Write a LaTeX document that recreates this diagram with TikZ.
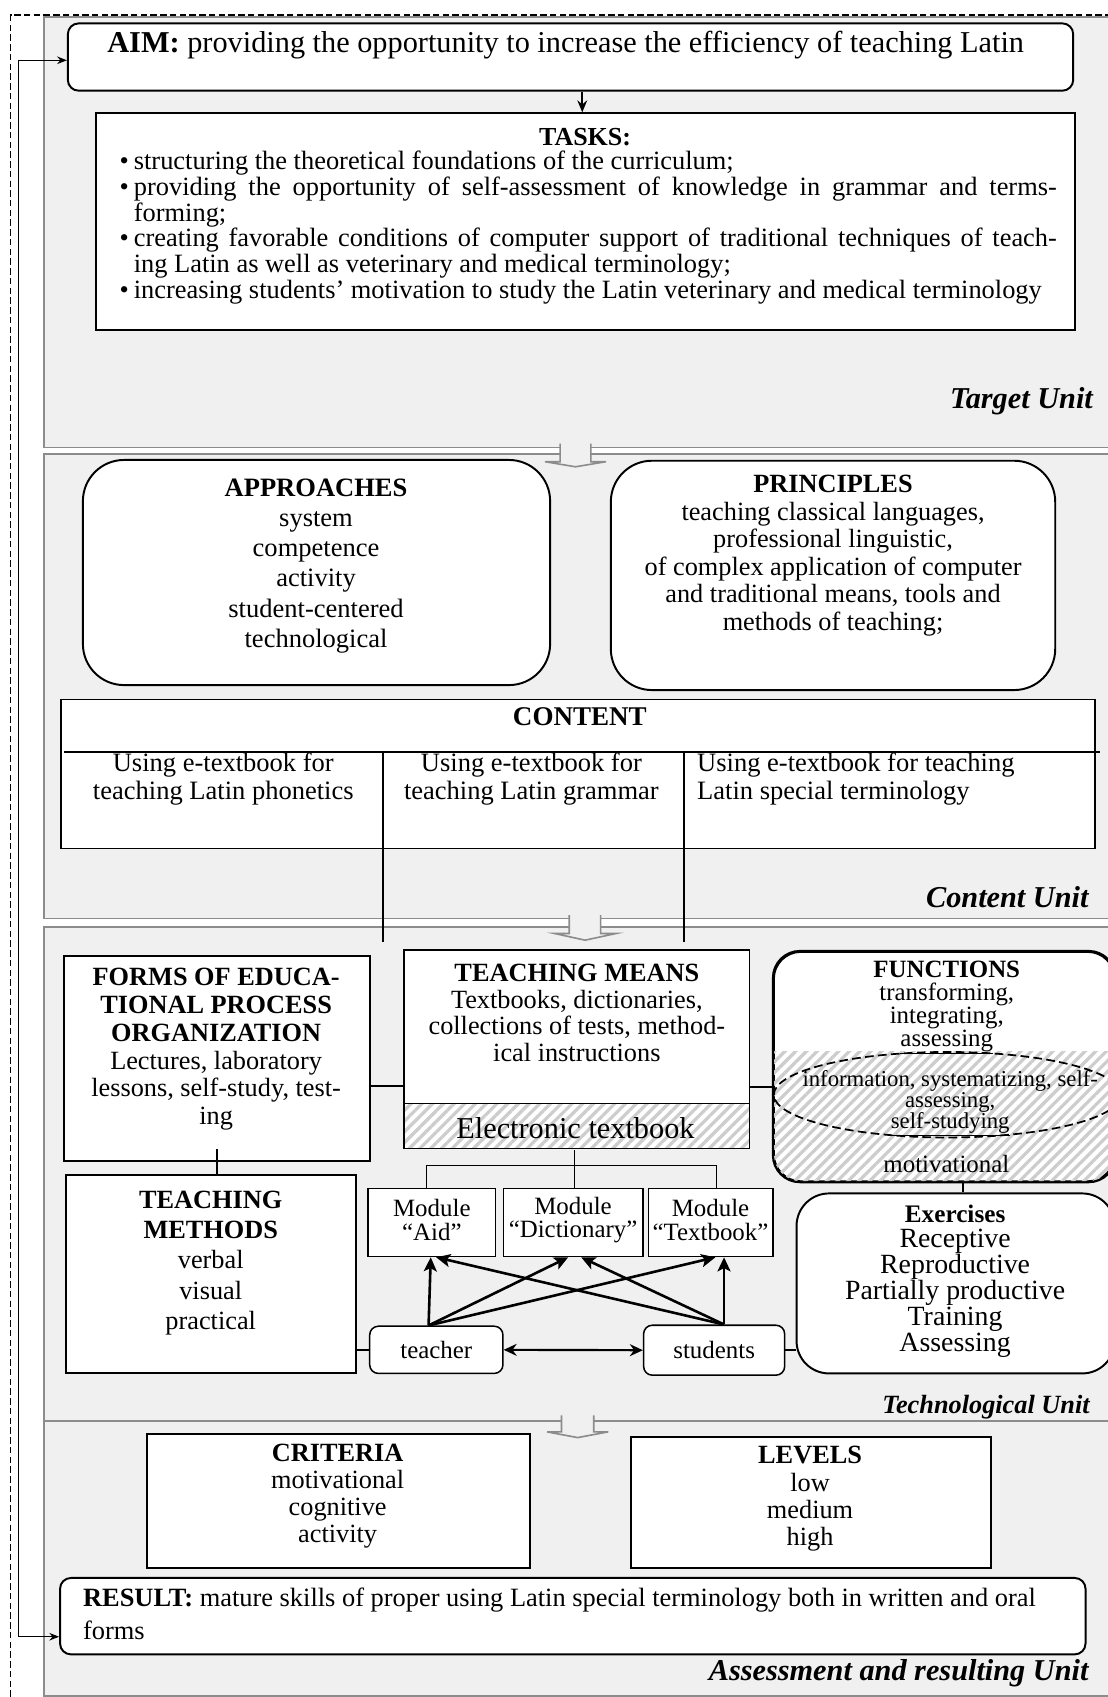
\documentclass[tikz,border=0pt]{standalone}
\usepackage{fontspec}
\setmainfont{Liberation Serif}
\usetikzlibrary{arrows.meta,fit,shapes.geometric,patterns.meta}
\definecolor{panelbg}{HTML}{F0F0F0}
\definecolor{panelln}{HTML}{8C8C8C}
\definecolor{hatchc}{HTML}{CDCDCD}
\newcommand\fz[2]{\fontsize{#1pt}{#2pt}\selectfont}
\newcommand\mkbox[6]{\node[#2,fit={(#3,#4)(#5,#6)},inner sep=0pt] (#1) {};}
\tikzset{
  panel/.style={fill=panelbg, draw=panelln, line width=1.5pt},
  bx/.style={draw=black, fill=white, line width=1.8pt},
  sbx/.style={draw=black, fill=white, line width=1.4pt},
  rbx/.style={bx, rounded corners=#1},
  srbx/.style={sbx, rounded corners=#1},
  hbx/.style={draw=black, line width=1.8pt, preaction={fill=white},
    pattern={Lines[angle=45,distance=7pt,line width=3pt]}, pattern color=hatchc},
  conn/.style={line width=1.8pt},
  tconn/.style={line width=1.4pt},
  marr/.style={line width=2.4pt, -{Stealth[length=13pt,width=12pt,inset=3pt]}},
  tx/.style={align=center, inner sep=0pt, execute at begin node={\lineskiplimit=-50pt}},
  unitlbl/.style={inner sep=0pt, anchor=east, font=\fz{28}{30}\bfseries\itshape},
  barrow/.style={fill=panelbg, draw=panelln, line width=1.5pt, line join=miter},
}
\begin{document}
\begin{tikzpicture}[x=1pt,y=-1pt]
\useasboundingbox (0,0) rectangle (1023,1568);

% ---------- unit panels ----------
\mkbox{pT}{panel}{40.6}{15.5}{1045}{413.4}
\mkbox{pC}{panel}{40.6}{419.5}{1045}{848.7}
\mkbox{pX}{panel}{40.6}{856.4}{1045}{1313}
\mkbox{pA}{panel}{40.6}{1313}{1045}{1567}

% block arrows between the panels
\draw[barrow] (517.5,410) -- (517.5,426.6) -- (503.6,426.6) -- (531.7,431.3) -- (560,426.6) -- (546,426.6) -- (546,410);
\draw[barrow] (526,845.5) -- (526,862.5) -- (512.3,862.5) -- (540.6,868.7) -- (569.3,862.5) -- (555,862.5) -- (555,845.5);
\draw[barrow] (518.8,1307.7) -- (518.8,1323) -- (505.5,1323) -- (533.7,1328.3) -- (562,1323) -- (548.6,1323) -- (548.6,1307.7);

% outer dashed frame
\draw[dash pattern=on 6pt off 3pt, line width=1.4pt] (1045,13.9) -- (9.9,13.9) -- (9.9,1580);

% ---------- Target unit ----------
\mkbox{aim}{rbx=10pt}{62.7}{21.6}{991.6}{83.8}
\node[tx,anchor=west,font=\fz{28}{30}] (aimT) at (99,41.6)
  {\textbf{AIM:} providing the opportunity to increase the efficiency of teaching Latin};
\mkbox{tasks}{bx}{88.4}{104.7}{993.5}{305}
\node[tx,font=\fz{24}{26}\bfseries] (tasksT) at (540.6,126.3) {TASKS:};
\node[inner sep=0pt, text width=866pt, align=justify, font=\fz{24.4}{23.7}] (tasksL) at (543.5,210.3) {%
\tolerance=10000 \parindent=0pt \parskip=0pt
\hangindent=13.2pt\hangafter=1\makebox[13.2pt][l]{\textbullet}structuring the theoretical foundations of the curriculum;\par
\hangindent=13.2pt\hangafter=1\makebox[13.2pt][l]{\textbullet}providing the opportunity of self-assessment of knowledge in grammar and terms-\linebreak forming;\par
\hangindent=13.2pt\hangafter=1\makebox[13.2pt][l]{\textbullet}creating favorable conditions of computer support of traditional techniques of teach-\linebreak ing Latin as well as veterinary and medical terminology;\par
\hangindent=13.2pt\hangafter=1\makebox[13.2pt][l]{\textbullet}increasing students’ motivation to study the Latin veterinary and medical terminology\par}; 
\coordinate (ax) at (538,0);
\draw[conn,-{Stealth[length=11pt,width=9pt]}] (aim.south -| ax) -- (tasks.north -| ax);
\node[unitlbl] (uT) at (1010,370.5) {Target Unit};

% ---------- Content unit ----------
\mkbox{appr}{rbx=38pt}{76.6}{425}{508.3}{633}
\node[tx,font=\fz{24.5}{28}] (apprT) at (292,522.9)
  {\textbf{APPROACHES}\\system\\competence\\activity\\student-centered\\technological};
\mkbox{prin}{rbx=38pt}{564.4}{425.7}{975}{637.6}
\node[tx,font=\fz{24.3}{25.4}] (prinT) at (769.7,513.2)
  {\textbf{PRINCIPLES}\\teaching classical languages,\\professional linguistic,\\of complex application of computer\\and traditional means, tools and\\methods of teaching;};
\mkbox{cont}{bx}{56}{646.3}{1011.5}{784}
\node[tx,font=\fz{25}{27}\bfseries] (contT) at (535.8,662.3) {CONTENT};
\draw[conn] (59,694.6) -- (1016.5,694.6);
\coordinate (d1t) at (353.5,694.6); \coordinate (d1b) at (353.5,870.8);
\coordinate (d2t) at (631.7,694.6); \coordinate (d2b) at (631.7,870.8);
\draw[conn] (d1t) -- (d1b);
\draw[conn] (d2t) -- (d2b);
\node[tx,font=\fz{24.5}{26}] (cell1) at (206.3,720) {Using e-textbook for\\teaching Latin phonetics};
\node[tx,font=\fz{24.5}{26}] (cell2) at (491,720) {Using e-textbook for\\teaching Latin grammar};
\node[tx,align=left,anchor=west,font=\fz{24.5}{26}] (cell3) at (644,720) {Using e-textbook for teaching\\Latin special terminology};
\node[unitlbl] (uC) at (1006,828.6) {Content Unit};

% ---------- Technological unit ----------
\mkbox{forms}{bx}{58.8}{883}{341.6}{1072.6}
\node[tx,font=\fz{24.3}{25.6}] (formsT) at (199.7,969.6)
  {\textbf{FORMS OF EDUCA-}\\\textbf{TIONAL PROCESS}\\\textbf{ORGANIZATION}\\Lectures, laboratory\\lessons, self-study, test-\\ing};
\mkbox{means}{bx}{373.4}{878}{692.5}{1019.6}
\node[tx,font=\fz{24.3}{24.5}] (meansT) at (533,935.7)
  {\textbf{TEACHING MEANS}\\Textbooks, dictionaries,\\collections of tests, method-\\ical instructions};
\mkbox{et}{hbx}{373.4}{1019.6}{692.5}{1061.2}
\node[tx,font=\fz{28}{30}] (etT) at (531.7,1042.7) {Electronic textbook};
\coordinate (c1y) at (0,1003);
\draw[conn] (forms.east |- c1y) -- (means.west |- c1y);

% functions
\mkbox{func}{rbx=25pt}{715}{879.5}{1030}{1091.5}
\begin{scope}
  \clip[rounded corners=25pt] (715,879.5) rectangle (1030,1091.5);
  \fill[pattern={Lines[angle=45,distance=7pt,line width=3pt]}, pattern color=hatchc] (705,972) rectangle (1040,1100);
\end{scope}
\draw[line width=1.8pt, rounded corners=25pt] (func.north west) rectangle (func.south east);
\node[tx,font=\fz{23}{21.2}] (funcT) at (874.8,930.8)
  {\textbf{FUNCTIONS}\\transforming,\\integrating,\\\underline{assessing}};
\node[ellipse, draw, dash pattern=on 8pt off 4pt, line width=1.6pt, minimum width=320.8pt, minimum height=79pt, inner sep=0pt] (ell) at (875.4,1011.5) {};
\node[tx,font=\fz{21}{19.6}] (ellT) at (878,1019)
  {information, systematizing, self-\\assessing,\\\underline{self-studying}};
\node[tx,font=\fz{23}{25}] (motT) at (874.4,1075.7) {motivational};
\coordinate (c2y) at (0,1004);
\draw[conn] (means.east |- c2y) -- (func.west |- c2y);

% exercises
\mkbox{exer}{rbx=30pt}{736}{1102.7}{1030}{1269}
\node[tx,font=\fz{25.7}{23.8}] (exerT) at (882.5,1183.5)
  {{\fz{23.3}{23.8}\bfseries Exercises}\\Receptive\\Reproductive\\Partially productive\\Training\\Assessing};
\coordinate (c3x) at (890,0);
\draw[conn] (func.south -| c3x) -- (exer.north -| c3x);

% teaching methods
\mkbox{meth}{bx}{61}{1086}{329}{1269}
\node[tx,font=\fz{24.3}{28}] (methT) at (194.7,1166.8)
  {\textbf{TEACHING}\\\textbf{METHODS}\\verbal\\visual\\practical};
\draw[conn] ([yshift=12pt]forms.south) -- (forms.south |- meth.north);

% modules
\mkbox{maid}{sbx}{340}{1098}{458}{1161}
\mkbox{mdic}{sbx}{465}{1098}{594}{1161}
\mkbox{mtxt}{sbx}{599}{1098}{714}{1161}
\node[tx,font=\fz{23}{21.6}] (maidT) at (399,1127.4) {Module\\“Aid”};
\node[tx,font=\fz{23}{21.6}] (mdicT) at (529.5,1127.4) {Module\\“Dictionary”};
\node[tx,font=\fz{23}{21.6}] (mtxtT) at (656.5,1127.4) {Module\\“Textbook”};
\coordinate (bus) at (0,1077);
\coordinate (dA) at (394,0); \coordinate (dB) at (531,0); \coordinate (dC) at (662,0);
\draw[tconn] (et.south -| dB) -- (mdic.north -| dB);
\draw[tconn] (maid.north -| dA) -- (bus -| dA) -- (bus -| dC) -- (mtxt.north -| dC);

% teacher / students
\mkbox{teach}{srbx=8pt}{341.6}{1225.4}{464.7}{1269}
\mkbox{stud}{srbx=8pt}{594.7}{1224.5}{725}{1270.6}
\node[tx,font=\fz{23}{25}] (teachT) at (teach.center) {teacher};
\node[tx,font=\fz{23}{25}] (studT) at (stud.center) {students};

\coordinate (tS) at (396,0); \coordinate (sS) at (669,0);
\coordinate (xA1) at (398,0); \coordinate (xB1) at (525,0); \coordinate (xC1) at (661,0);
\coordinate (xA2) at (403,0); \coordinate (xB2) at (537,0); \coordinate (xC2) at (669,0);
\draw[marr] (teach.north -| tS) -- (maid.south -| xA1);
\draw[marr] (teach.north -| tS) -- (mdic.south -| xB1);
\draw[marr] (teach.north -| tS) -- (mtxt.south -| xC1);
\draw[marr] (stud.north -| sS) -- (maid.south -| xA2);
\draw[marr] (stud.north -| sS) -- (mdic.south -| xB2);
\draw[marr] (stud.north -| sS) -- (mtxt.south -| xC2);
\draw[line width=2pt, {Stealth[length=12pt,width=11pt]}-{Stealth[length=12pt,width=11pt]}] (teach.east) -- (stud.west);
\draw[tconn] (meth.east |- teach.west) -- (teach.west);
\draw[tconn] (stud.east) -- (stud.east -| exer.west);
\node[unitlbl,font=\fz{24.3}{26}\bfseries\itshape] (uX) at (1007,1300.4) {Technological Unit};

% ---------- Assessment unit ----------
\mkbox{crit}{bx}{136}{1324.6}{489.5}{1448.7}
\node[tx,font=\fz{24.3}{25}] (critT) at (312,1382.5) {\textbf{CRITERIA}\\motivational\\cognitive\\activity};
\mkbox{lev}{bx}{583}{1327.6}{916}{1448.7}
\node[tx,font=\fz{24.3}{25.3}] (levT) at (748.5,1385) {\textbf{LEVELS}\\low\\medium\\high};
\mkbox{res}{rbx=10pt}{55.5}{1458}{1003}{1528.6}
\node[tx,align=left,anchor=west,font=\fz{24.4}{30.8}] (resT) at (76.6,1490.9)
  {\textbf{RESULT:} mature skills of proper using Latin special terminology both in written and oral\\forms};
\node[unitlbl] (uA) at (1006,1546) {Assessment and resulting Unit};

% feedback connector RESULT <-> AIM
\coordinate (fbx) at (17,0);
\coordinate (fbR) at ([yshift=-19pt]res.west);
\coordinate (fbA) at ([yshift=-3pt]aim.west);
\draw[line width=1.4pt, {Stealth[length=9pt,width=7pt]}-{Stealth[length=9pt,width=7pt]}] (fbR) -- (fbR -| fbx) -- (fbA -| fbx) -- (fbA);
\end{tikzpicture}
\end{document}
